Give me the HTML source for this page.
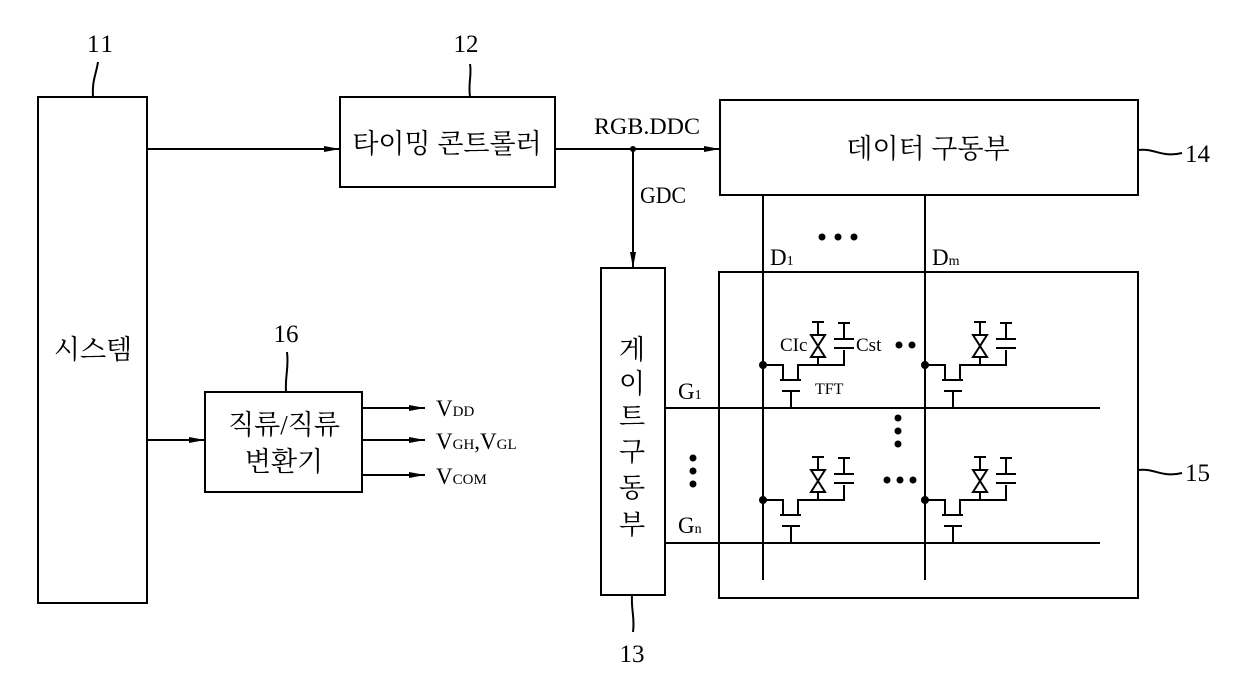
<!DOCTYPE html>
<html><head><meta charset="utf-8"><style>
html,body{margin:0;padding:0;background:#fff;}
svg{display:block;}
text{font-family:"Liberation Serif","Noto Serif CJK SC","Noto Sans CJK KR",serif;fill:#000;}
.k{font-family:"Liberation Sans","Noto Sans CJK KR",sans-serif;}
</style></head><body>
<svg width="1240" height="681" viewBox="0 0 1240 681" xmlns="http://www.w3.org/2000/svg">
<defs>
<marker id="a" markerWidth="16" markerHeight="8" refX="16" refY="4" orient="auto" markerUnits="userSpaceOnUse"><path d="M0,1 L16,4 L0,7 Z" fill="#000"/></marker>
<g id="cell" stroke="#000" stroke-width="2" fill="none">
<circle cx="0" cy="0" r="3" fill="#000"/>
<path d="M0,0 H20 V15"/>
<path d="M17,15 H38"/>
<path d="M35,15 V0 H82"/>
<path d="M19,26 H37 M28,26 V43"/>
<path d="M55,0 V-43 M49,-43 H61"/>
<path d="M48,-30 L62,-30 L48,-8 L62,-8 Z" fill="#fff"/>
<path d="M81,0 V-15 M71,-17 H91 M71,-26 H91 M81,-26 V-42 M75,-42 H87"/>
</g>
</defs>
<g stroke="#000" stroke-width="2" fill="none">
<rect x="38" y="97" width="109" height="506"/>
<rect x="340" y="97" width="215" height="90"/>
<rect x="720" y="100" width="418" height="95"/>
<rect x="719" y="272" width="419" height="326"/>
<rect x="601" y="268" width="64" height="327"/>
<rect x="205" y="392" width="157" height="100"/>
<path d="M147,149 H340" marker-end="url(#a)"/>
<path d="M147,440 H205" marker-end="url(#a)"/>
<path d="M555,149 H720" marker-end="url(#a)"/>
<path d="M633,149 V268" marker-end="url(#a)"/>
<path d="M362,408 H425" marker-end="url(#a)"/>
<path d="M362,440 H425" marker-end="url(#a)"/>
<path d="M362,475 H425" marker-end="url(#a)"/>
<path d="M763,195 V580 M925,195 V580"/>
<path d="M665,408 H1100 M665,543 H1100"/>
<path d="M93,97 C92,80 96,75 98,62"/>
<path d="M470,97 C468,82 472,76 470,64"/>
<path d="M286,392 C285,375 289,368 287,352"/>
<path d="M632,595 C631,610 635,618 633,632"/>
<path d="M1138,150 C1155,148 1162,158 1182,153"/>
<path d="M1138,470 C1155,468 1162,478 1182,473"/>
</g>
<circle cx="633" cy="149" r="3" fill="#000"/>
<use href="#cell" x="763" y="365"/>
<use href="#cell" x="925" y="365"/>
<use href="#cell" x="763" y="500"/>
<use href="#cell" x="925" y="500"/>
<g fill="#000">
<circle cx="822" cy="237" r="3.5"/><circle cx="838" cy="237" r="3.5"/><circle cx="854" cy="237" r="3.5"/>
<circle cx="899" cy="345" r="3.5"/><circle cx="912" cy="345" r="3.5"/>
<circle cx="898" cy="418" r="3.5"/><circle cx="898" cy="431" r="3.5"/><circle cx="898" cy="444" r="3.5"/>
<circle cx="693" cy="458" r="3.5"/><circle cx="693" cy="471" r="3.5"/><circle cx="693" cy="484" r="3.5"/>
<circle cx="887" cy="480" r="3.5"/><circle cx="900" cy="480" r="3.5"/><circle cx="913" cy="480" r="3.5"/>
</g>
<g font-size="25">
<text x="100" y="52" text-anchor="middle" textLength="26">11</text>
<text x="466" y="52" text-anchor="middle">12</text>
<text x="286" y="342" text-anchor="middle">16</text>
<text x="632" y="662" text-anchor="middle">13</text>
<text x="1185" y="162">14</text>
<text x="1185" y="481">15</text>
</g>
<g font-size="23">
<text x="594" y="134" textLength="106" lengthAdjust="spacingAndGlyphs">RGB.DDC</text>
<text x="640" y="203" textLength="46" lengthAdjust="spacingAndGlyphs">GDC</text>
<text x="770" y="265">D<tspan font-size="14">1</tspan></text>
<text x="932" y="265">D<tspan font-size="14">m</tspan></text>
<text x="678" y="399">G<tspan font-size="14">1</tspan></text>
<text x="678" y="533">G<tspan font-size="14">n</tspan></text>
<text x="436" y="416">V<tspan font-size="15">DD</tspan></text>
<text x="436" y="449">V<tspan font-size="15">GH</tspan>,V<tspan font-size="15">GL</tspan></text>
<text x="436" y="484">V<tspan font-size="15">COM</tspan></text>
</g>
<g font-size="19">
<text x="780" y="351">CIc</text>
<text x="856" y="351">Cst</text>
<text x="815" y="394" font-size="16">TFT</text>
</g>
<g class="k" font-size="27">
<text x="93" y="359" text-anchor="middle">시스템</text>
<text x="447" y="153" text-anchor="middle">타이밍 콘트롤러</text>
<text x="928" y="158" text-anchor="middle">데이터 구동부</text>
<text x="284" y="434" text-anchor="middle">직류/직류</text>
<text x="284" y="471" text-anchor="middle">변환기</text>
<text x="632" y="359" text-anchor="middle">게</text>
<text x="632" y="393" text-anchor="middle">이</text>
<text x="632" y="426" text-anchor="middle">트</text>
<text x="632" y="461" text-anchor="middle">구</text>
<text x="632" y="497" text-anchor="middle">동</text>
<text x="632" y="534" text-anchor="middle">부</text>
</g>
</svg>
</body></html>
